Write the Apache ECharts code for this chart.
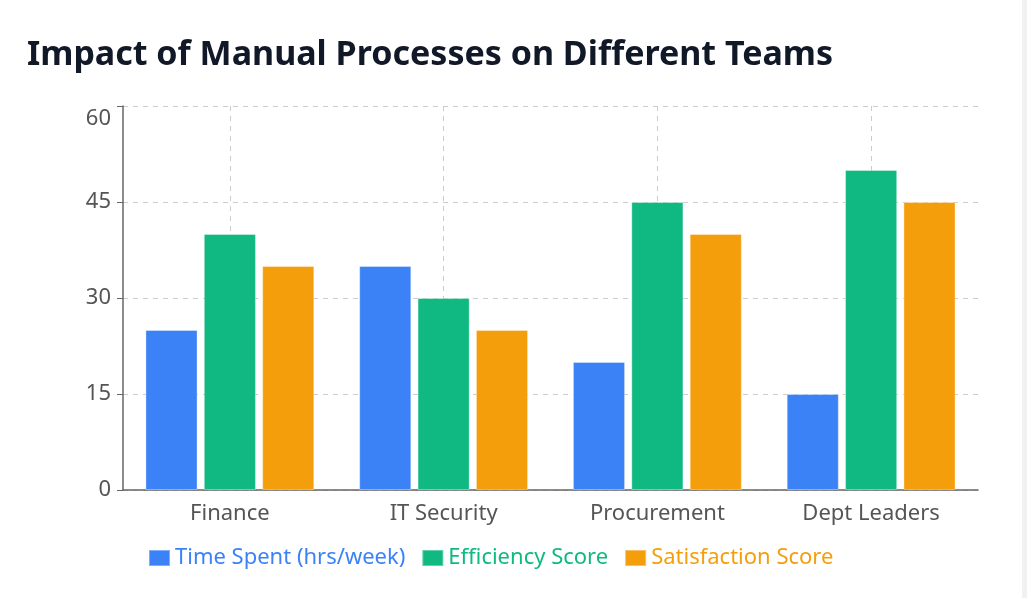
<!DOCTYPE html>
<html>
<head>
<meta charset="utf-8">
<script src="https://cdn.jsdelivr.net/npm/echarts@6/dist/echarts.min.js"></script>
<style>
  html, body { margin: 0; padding: 0; background: #fff; }
  #chart { width: 1027px; height: 598px; }
  #bar { position: absolute; right: 0; top: 0; width: 5px; height: 598px; background: #f1f1f1; }
</style>
</head>
<body>
<div id="chart"></div>
<div id="bar"></div>
<script>
// teams and scores
var teams = ['Finance', 'IT Security', 'Procurement', 'Dept Leaders'];
var timeSpent = [25, 35, 20, 15];
var efficiency = [40, 30, 45, 50];
var satisfaction = [35, 25, 40, 45];
var seriesNames = ['Time Spent (hrs/week)', 'Efficiency Score', 'Satisfaction Score'];
var colors = ['#3B82F6', '#10B981', '#F59E0B'];

var chart = echarts.init(document.getElementById('chart'));

function barSeries(name, data, color) {
  return {
    name: name,
    type: 'bar',
    data: data,
    barGap: '12%',
    barCategoryGap: '21%',
    itemStyle: {
      color: color,
      borderColor: 'rgba(255,255,255,0.35)',
      borderWidth: 1
    }
  };
}

var option = {
  backgroundColor: '#fff',
  color: colors,
  title: {
    text: 'Impact of Manual Processes on Different Teams',
    left: 22,
    top: 33,
    textStyle: {
      fontFamily: 'Noto Sans',
      fontWeight: 'bold',
      fontSize: 34,
      color: '#111827'
    }
  },
  grid: {
    left: 123,
    right: 49,
    top: 106,
    bottom: 108
  },
  legend: {
    bottom: 24,
    left: 143,
    icon: 'rect',
    itemWidth: 21,
    itemHeight: 16,
    itemGap: 16,
    data: seriesNames.map(function (n, i) {
      return { name: n, textStyle: { color: colors[i] } };
    }),
    textStyle: {
      fontFamily: 'Noto Sans',
      fontSize: 22
    }
  },
  xAxis: {
    type: 'category',
    data: teams,
    axisLine: { lineStyle: { color: '#666', width: 1.5 } },
    axisTick: { alignWithLabel: true, length: 6, lineStyle: { color: '#666' } },
    axisLabel: {
      fontFamily: 'Noto Sans',
      fontSize: 22,
      color: '#555',
      margin: 13
    },
    splitLine: {
      show: true,
      alignWithLabel: true,
      lineStyle: { color: '#ccc', type: [5, 5] }
    }
  },
  yAxis: {
    type: 'value',
    min: 0,
    max: 60,
    interval: 15,
    axisLine: { show: true, lineStyle: { color: '#666', width: 1.5 } },
    axisTick: { show: true, length: 6, lineStyle: { color: '#666' } },
    axisLabel: {
      fontFamily: 'Noto Sans',
      fontSize: 22,
      color: '#555',
      margin: 12,
      formatter: function (v) {
        return v === 60 ? '{top|' + v + '}' : String(v);
      },
      rich: {
        top: {
          fontFamily: 'Noto Sans',
          fontSize: 22,
          color: '#555',
          padding: [26, 0, 0, 0]
        }
      }
    },
    splitLine: {
      lineStyle: { color: '#ccc', type: [5, 5] }
    }
  },
  series: [
    barSeries(seriesNames[0], timeSpent, colors[0]),
    barSeries(seriesNames[1], efficiency, colors[1]),
    barSeries(seriesNames[2], satisfaction, colors[2])
  ]
};

chart.setOption(option);
</script>
</body>
</html>
